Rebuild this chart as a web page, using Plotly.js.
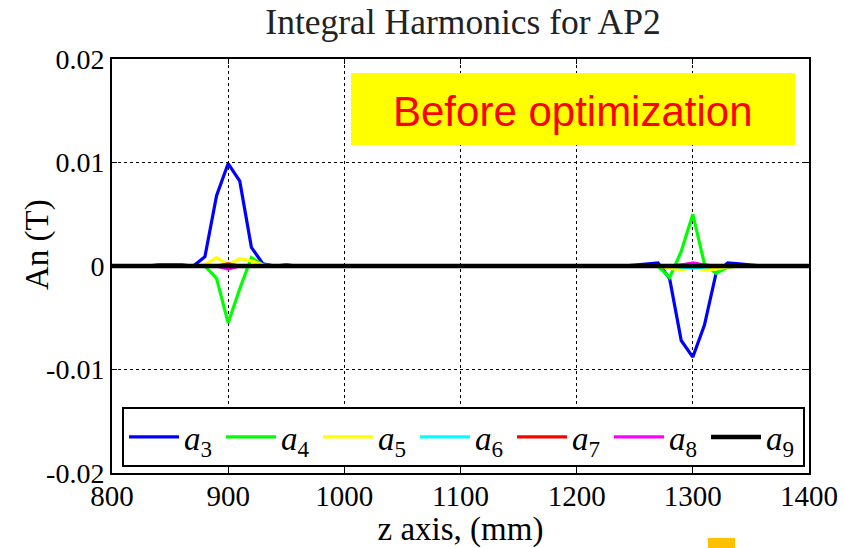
<!DOCTYPE html>
<html>
<head>
<meta charset="utf-8">
<script src="https://cdn.plot.ly/plotly-3.0.1.min.js"></script>
<style>html,body{margin:0;padding:0;background:#fff;}#chart{width:844px;height:548px;}</style>
</head>
<body>
<div id="chart"></div>
<script>
// z positions (mm)
var z = [800,810,820,830,840,850,860,870,880,890,
         900,910,920,930,940,950,960,970,980,990,
         1000,1010,1020,1030,1040,1050,1060,1070,1080,1090,
         1100,1110,1120,1130,1140,1150,1160,1170,1180,1190,
         1200,1210,1220,1230,1240,1250,1260,1270,1280,1290,
         1300,1310,1320,1330,1340,1350,1360,1370,1380,1390,
         1400];

var a3 = [0,0,0,0,0.0001,0.0001,0.0001,0,0.0009,0.0068,
          0.0099,0.0082,0.0018,0.0002,0,0.0001,0,0,0,0,
          0,0,0,0,0,0,0,0,0,0,
          0,0,0,0,0,0,0,0,0,0,
          0,0,0,0,0,0.0001,0.0002,0.0003,-0.0012,-0.0072,
          -0.0088,-0.0057,-0.0007,0.0003,0.0002,0.0001,0,0,0,0,
          0];
var a4 = [0,0,0,0,0,0,0,0,0,-0.0012,
          -0.0055,-0.0022,0.0008,0.0001,0,0,0,0,0,0,
          0,0,0,0,0,0,0,0,0,0,
          0,0,0,0,0,0,0,0,0,0,
          0,0,0,0,0,0,0,0,-0.0011,0.0014,
          0.0050,0.0002,-0.0007,-0.0001,0,0,0,0,0,0,
          0];
var a5 = [0,0,0,0,0,0,0,0,0.0001,0.0008,
          0.0001,0.0007,0.0005,0.0001,0,0,0,0,0,0,
          0,0,0,0,0,0,0,0,0,0,
          0,0,0,0,0,0,0,0,0,0,
          0,0,0,0,0,0,0,0,-0.0002,-0.0004,
          -0.0001,-0.0004,-0.0003,-0.0001,0,0,0,0,0,0,
          0];
var a6 = [0,0,0,0,0,0,0,0,0,0,
          -0.0001,0,0,0,0,0,0,0,0,0,
          0,0,0,0,0,0,0,0,0,0,
          0,0,0,0,0,0,0,0,0,0,
          0,0,0,0,0,0,0,0,0,-0.0001,
          -0.0002,-0.0001,0,0,0,0,0,0,0,0,
          0];
var a7 = [0,0,0,0,0,0,0,0,0,0,
          0.0002,0,0,0,0,0,0,0,0,0,
          0,0,0,0,0,0,0,0,0,0,
          0,0,0,0,0,0,0,0,0,0,
          0,0,0,0,0,0,0,0,0,0.0001,
          0.0002,0.0001,0,0,0,0,0,0,0,0,
          0];
var a8 = [0,0,0,0,0,0,0,0,0,0,
          -0.0003,0,0,0,0,0,0,0,0,0,
          0,0,0,0,0,0,0,0,0,0,
          0,0,0,0,0,0,0,0,0,0,
          0,0,0,0,0,0,0,0,0,0.0001,
          0.0003,0.0001,0,0,0,0,0,0,0,0,
          0];
var a9 = [0,0,0,0,0,0,0,0,0,0,
          0,0,0,0,0,0,0,0,0,0,
          0,0,0,0,0,0,0,0,0,0,
          0,0,0,0,0,0,0,0,0,0,
          0,0,0,0,0,0,0,0,0,0,
          0,0,0,0,0,0,0,0,0,0,
          0];

var seriesNames = ['<i>a</i><sub>3</sub>','<i>a</i><sub>4</sub>','<i>a</i><sub>5</sub>','<i>a</i><sub>6</sub>','<i>a</i><sub>7</sub>','<i>a</i><sub>8</sub>','<i>a</i><sub>9</sub>'];
var seriesData = [a3,a4,a5,a6,a7,a8,a9];
var seriesColors = ['#0000ff','#00ff00','#ffff00','#00ffff','#ff0000','#ff00ff','#000000'];

var xTicks = [800,900,1000,1100,1200,1300,1400];
var yTicks = [-0.02,-0.01,0,0.01,0.02];
var yTickText = ['-0.02','-0.01','0','0.01','0.02'];

var serif = 'Liberation Serif, Times New Roman, serif';

var traces = seriesData.map(function(d,i){
  return {x:z, y:d, type:'scatter', mode:'lines', name:seriesNames[i],
          line:{color:seriesColors[i], width:(i===6?4.5:3.2)}};
});

var layout = {
  width:844, height:548,
  margin:{l:112, r:35, t:59, b:75},
  paper_bgcolor:'#fff', plot_bgcolor:'#fff',
  title:{text:'Integral Harmonics for AP2', font:{family:serif, size:35.5, color:'#222'},
         x:463/844, xref:'container', xanchor:'center', y:1-9/548, yref:'container', yanchor:'top'},
  xaxis:{range:[800,1400], tickvals:xTicks, showgrid:true, gridcolor:'#000', griddash:'dot', gridwidth:1,
         showline:true, linecolor:'#000', linewidth:2, mirror:'ticks', ticks:'inside', ticklen:5, tickcolor:'#000',
         zeroline:false, tickfont:{family:serif, size:29, color:'#000'}, ticklabelstandoff:-4,
         title:{text:'z axis, (mm)', font:{family:serif, size:33, color:'#000'}, standoff:15}},
  yaxis:{range:[-0.02,0.02], tickvals:yTicks, ticktext:yTickText, showgrid:true, gridcolor:'#000', griddash:'dot', gridwidth:1,
         showline:true, linecolor:'#000', linewidth:2, mirror:'ticks', ticks:'inside', ticklen:5, tickcolor:'#000',
         zeroline:false, tickfont:{family:serif, size:28, color:'#000'}},
  showlegend:true,
  legend:{orientation:'h', x:(122-112)/697, xanchor:'left', y:(473-407)/414, yanchor:'top',
          bgcolor:'#fff', bordercolor:'#000', borderwidth:2,
          font:{family:serif, size:33, color:'#000'}, entrywidth:32, entrywidthmode:'pixels', itemwidth:50},
  shapes:[
    {type:'rect', xref:'paper', yref:'paper', x0:(351-112)/697, x1:(795-112)/697, y0:(473-145)/414, y1:(473-73)/414,
     fillcolor:'#ffff00', line:{width:0}, layer:'above'},
    {type:'rect', xref:'paper', yref:'paper', x0:(708-112)/697, x1:(735-112)/697, y0:(473-548)/414, y1:(473-538)/414,
     fillcolor:'#ffc000', line:{width:0}, layer:'above'}
  ],
  annotations:[
    {text:'Before optimization', xref:'paper', yref:'paper', x:(573-112)/697, y:(473-111)/414,
     xanchor:'center', yanchor:'middle', showarrow:false,
     font:{family:'Liberation Sans, Arial, sans-serif', size:42, color:'#ff0000'}},
    {text:'An (T)', xref:'paper', yref:'paper', x:(37-112)/697, y:(473-245)/414, textangle:-90,
     xanchor:'center', yanchor:'middle', showarrow:false,
     font:{family:serif, size:33, color:'#000'}}
  ]
};

Plotly.newPlot('chart', traces, layout, {displayModeBar:false, staticPlot:true});
</script>
</body>
</html>
